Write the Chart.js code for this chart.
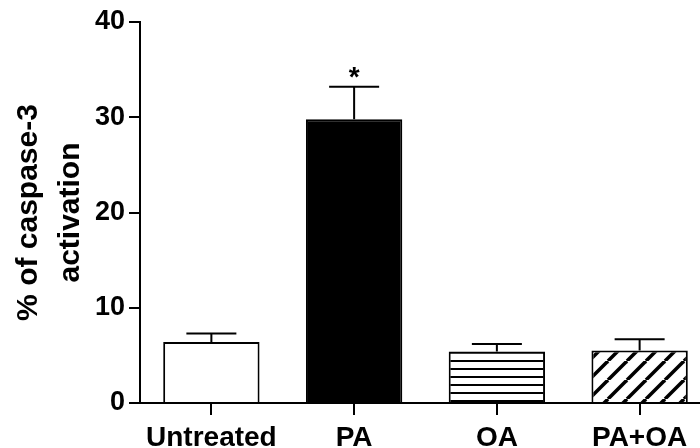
<!DOCTYPE html>
<html lang="en">
<head>
    <meta charset="UTF-8">
    <title>Caspase-3 activation</title>
    <script src="https://cdn.jsdelivr.net/npm/chart.js"></script>
    <style>
        html, body { margin: 0; padding: 0; background: #fff; overflow: hidden; }
        #wrap { width: 700px; height: 448px; overflow: hidden; }
    </style>
</head>
<body>
    <div id="wrap">
        <canvas id="casp" width="712" height="448"></canvas>
    </div>

    <script>
        // Data
        const groups = ['Untreated', 'PA', 'OA', 'PA+OA'];
        const means = [6.4, 29.8, 5.4, 5.5];
        const sem = [0.9, 3.4, 0.8, 1.2];
        const marks = ['', '*', '', ''];
        const yTicks = [0, 10, 20, 30, 40];

        const FONT = "'Liberation Sans', Arial, Helvetica, sans-serif";

        // fill patterns
        function hLines() {
            const c = document.createElement('canvas');
            c.width = 8; c.height = 8;
            const g = c.getContext('2d');
            g.fillStyle = '#fff';
            g.fillRect(0, 0, 8, 8);
            g.fillStyle = '#000';
            g.fillRect(0, 0, 8, 2);
            return c;
        }

        function diagLines() {
            const s = 19;
            const c = document.createElement('canvas');
            c.width = s; c.height = s;
            const g = c.getContext('2d');
            g.fillStyle = '#fff';
            g.fillRect(0, 0, s, s);
            g.strokeStyle = '#000';
            g.lineWidth = 3.5;
            for (let k = -1; k <= 1; k++) {
                g.beginPath();
                g.moveTo(k * s, s);
                g.lineTo(k * s + s, 0);
                g.stroke();
            }
            return c;
        }

        const ctx = document.getElementById('casp').getContext('2d');
        const fills = [
            '#ffffff',
            '#000000',
            ctx.createPattern(hLines(), 'repeat'),
            ctx.createPattern(diagLines(), 'repeat')
        ];

        // error bars (upper half only) and significance marks
        const errorBars = {
            id: 'errorBars',
            afterDatasetsDraw(chart) {
                const meta = chart.getDatasetMeta(0);
                const y = chart.scales.y;
                const c = chart.ctx;
                c.save();
                c.strokeStyle = '#000';
                c.lineWidth = 2;
                meta.data.forEach((bar, i) => {
                    const top = y.getPixelForValue(means[i] + sem[i]);
                    c.beginPath();
                    c.moveTo(bar.x, bar.y);
                    c.lineTo(bar.x, top);
                    c.moveTo(bar.x - 25, top);
                    c.lineTo(bar.x + 25, top);
                    c.stroke();
                    if (marks[i]) {
                        c.fillStyle = '#000';
                        c.font = 'bold 28px ' + FONT;
                        c.textAlign = 'center';
                        c.textBaseline = 'alphabetic';
                        c.fillText(marks[i], bar.x, top - 1);
                    }
                });
                c.restore();
            }
        };

        new Chart(ctx, {
            type: 'bar',
            data: {
                labels: groups,
                datasets: [{
                    data: means,
                    backgroundColor: fills,
                    borderColor: '#000',
                    borderWidth: 2,
                    barPercentage: 0.675,
                    categoryPercentage: 1
                }]
            },
            options: {
                responsive: false,
                animation: false,
                layout: { padding: { left: 0, right: 1, top: 22, bottom: 0 } },
                plugins: {
                    legend: { display: false },
                    tooltip: { enabled: false }
                },
                scales: {
                    x: {
                        afterFit(scale) { scale.height = 45; },
                        border: { display: true, color: '#000', width: 2 },
                        grid: {
                            drawOnChartArea: false,
                            drawTicks: true,
                            offset: false,
                            tickLength: 12,
                            color: '#000',
                            lineWidth: 2
                        },
                        ticks: {
                            color: '#000',
                            padding: 6,
                            maxRotation: 0,
                            font: { family: FONT, size: 28, weight: 'bold' }
                        }
                    },
                    y: {
                        min: 0,
                        max: 40,
                        afterFit(scale) { scale.width = 140; },
                        afterBuildTicks(scale) {
                            scale.ticks = yTicks.map(v => ({ value: v }));
                        },
                        border: { display: true, color: '#000', width: 2 },
                        grid: {
                            drawOnChartArea: false,
                            drawTicks: true,
                            tickLength: 11,
                            color: '#000',
                            lineWidth: 2
                        },
                        ticks: {
                            color: '#000',
                            padding: 4,
                            font: { family: FONT, size: 27, weight: 'bold' }
                        },
                        title: {
                            display: true,
                            text: ['% of caspase-3', 'activation'],
                            color: '#000',
                            padding: { top: 7, bottom: 0 },
                            font: { family: FONT, size: 30, weight: 'bold', lineHeight: 1.42 }
                        }
                    }
                }
            },
            plugins: [errorBars]
        });
    </script>
</body>
</html>
